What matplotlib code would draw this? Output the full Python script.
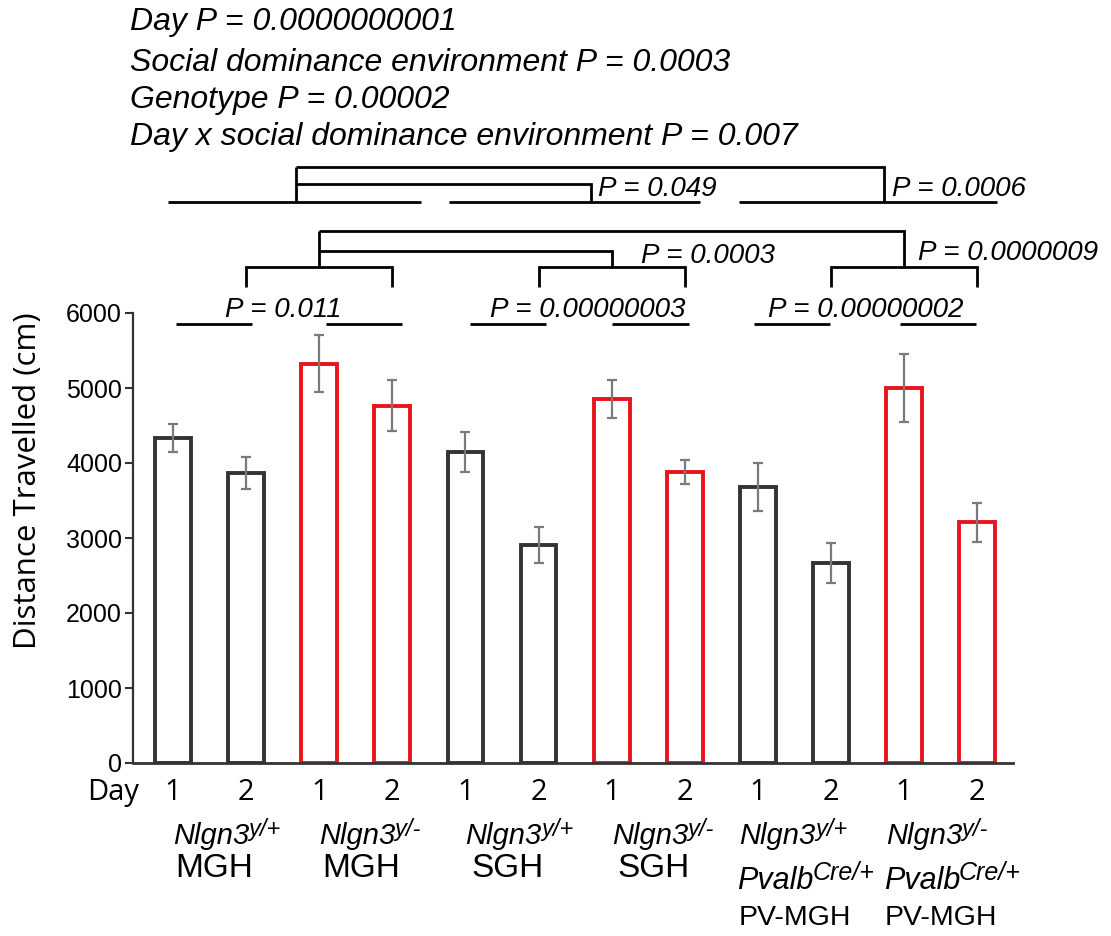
import matplotlib
matplotlib.use("Agg")
import matplotlib.pyplot as plt
import numpy as np

# ---------------- data ----------------
days = ["1", "2", "1", "2", "1", "2", "1", "2", "1", "2", "1", "2"]
means = [4330, 3867, 5320, 4760, 4147, 2907, 4853, 3880, 3680, 2667, 5000, 3213]
sems = [185, 215, 380, 340, 265, 240, 250, 165, 320, 265, 450, 260]
genotype = ["y/+", "y/+", "y/-", "y/-", "y/+", "y/+", "y/-", "y/-", "y/+", "y/+", "y/-", "y/-"]
group_sup = ["y/+", "y/-", "y/+", "y/-", "y/+", "y/-"]
group_housing = ["MGH", "MGH", "SGH", "SGH", "PV-MGH", "PV-MGH"]
group_cre = [None, None, None, None, "Cre/+", "Cre/+"]
yticks = [0, 1000, 2000, 3000, 4000, 5000, 6000]

header_lines = [
    "Day P = 0.0000000001",
    "Social dominance environment P = 0.0003",
    "Genotype P = 0.00002",
    "Day x social dominance environment P = 0.007",
]

BLACK = "#333333"
RED = "#e8141c"
ERR = "#7a7a7a"
SANS = ["Liberation Sans", "DejaVu Sans"]
OPEN = ["Open Sans", "DejaVu Sans"]

fig = plt.figure(figsize=(11.11, 9.36), dpi=100)
ax = fig.add_axes([133 / 1111, 1 - 763 / 936, 880 / 1111, 450 / 936])

x = np.arange(len(means))
edge = [BLACK if g == "y/+" else RED for g in genotype]
ax.bar(x, means, width=0.49, facecolor="white", edgecolor=edge, linewidth=2.8, zorder=2)
ax.errorbar(x, means, yerr=sems, fmt="none", ecolor=ERR, elinewidth=1.6,
            capsize=3.5, capthick=1.6, zorder=3)

ax.set_xlim(-0.547, 11.49)
ax.set_ylim(0, 6000)
ax.set_yticks(yticks)
ax.set_yticklabels([str(t) for t in yticks], family=SANS, fontsize=18)
ax.set_xticks([])
ax.tick_params(axis="y", direction="out", length=6, width=1.5, color=BLACK, pad=2)
for s in ["top", "right"]:
    ax.spines[s].set_visible(False)
ax.spines["left"].set_linewidth(1.6)
ax.spines["left"].set_color(BLACK)
ax.spines["bottom"].set_linewidth(2.0)
ax.spines["bottom"].set_color(BLACK)
ax.spines["bottom"].set_zorder(4)

ax.text(-0.119, 0.627, "Distance Travelled (cm)", transform=ax.transAxes, rotation=90,
        ha="center", va="center", family=OPEN, fontsize=22.5)

# x labels
ax.text(-0.82, -390, "Day", ha="center", va="center", family=OPEN, fontsize=21, clip_on=False)
for xi, d in zip(x, days):
    ax.text(xi, -390, d, ha="center", va="center", family=OPEN, fontsize=21, clip_on=False)

for gi in range(6):
    c = 2 * gi + 0.5
    left = c - (0.5 if group_cre[gi] is None else 0.75)
    t = ax.text(left, -980, "Nlgn3", ha="left", va="center", style="italic",
                family=SANS, fontsize=21, clip_on=False)
    ax.annotate(group_sup[gi], xy=(1.0, 0.33), xycoords=t, xytext=(-0.5, 0), textcoords="offset points",
                ha="left", va="bottom", style="italic", family=SANS, fontsize=17,
                annotation_clip=False)
    if group_cre[gi] is None:
        ax.text(c + 0.07, -1410, group_housing[gi], ha="center", va="center",
                family=SANS, fontsize=24, clip_on=False)
    else:
        t2 = ax.text(c - 0.78, -1570, "Pvalb", ha="left", va="center", style="italic",
                     family=SANS, fontsize=22, clip_on=False)
        ax.annotate(group_cre[gi], xy=(1.0, 0.36), xycoords=t2, xytext=(-1, 0),
                    textcoords="offset points", ha="left", va="bottom", style="italic",
                    family=SANS, fontsize=18, annotation_clip=False)
        ax.text(c, -2070, group_housing[gi], ha="center", va="center",
                family=SANS, fontsize=20.5, clip_on=False)

# ---------------- annotations ----------------
LW = 2.0
def seg(xs, ys):
    ax.plot(xs, ys, color="black", lw=LW, clip_on=False, solid_capstyle="butt",
            solid_joinstyle="miter", zorder=5)

def ptext(xl, yb, s, size=20):
    ax.text(xl, yb, s, ha="left", va="baseline", style="italic", family=SANS,
            fontsize=size, clip_on=False, zorder=6)

# row D: day comparisons per group
yD = 5853
for a, b in [(0.04, 1.08), (2.09, 3.13), (4.06, 5.10), (6.01, 7.06), (7.95, 8.99), (9.95, 10.98)]:
    seg([a, b], [yD, yD])
ptext(0.71, 5947, "P = 0.011")
ptext(4.34, 5947, "P = 0.00000003")
ptext(8.14, 5947, "P = 0.00000002")

# row C: group brackets
yC, yCb = 6613, 6347
for a, b in [(1, 3), (5, 7), (9, 11)]:
    seg([a, a, b, b], [yCb, yC, yC, yCb])

# row B
yB1, yB2 = 7093, 6827
seg([2, 2], [yC, yB1])
seg([2, 10, 10], [yB1, yB1, yC])
seg([2, 6, 6], [yB2, yB2, yC])
ptext(6.40, 6667, "P = 0.0003")
ptext(10.19, 6707, "P = 0.0000009")

# row A
yA = 7480
for a, b in [(-0.07, 3.39), (3.78, 7.21), (7.74, 11.27)]:
    seg([a, b], [yA, yA])
yA1, yA2 = 7947, 7720
seg([1.68, 1.68], [yA, yA1])
seg([1.68, 9.73, 9.73], [yA1, yA1, yA])
seg([1.68, 5.72, 5.72], [yA2, yA2, yA])
ptext(5.81, 7560, "P = 0.049")
ptext(9.84, 7560, "P = 0.0006")

# header
for yy, line in zip([9880, 9333, 8840, 8347], header_lines):
    ax.text(-0.59, yy, line, ha="left", va="center", style="italic", family=SANS,
            fontsize=23, clip_on=False)

fig.savefig("out.png", dpi=100, facecolor="white")
